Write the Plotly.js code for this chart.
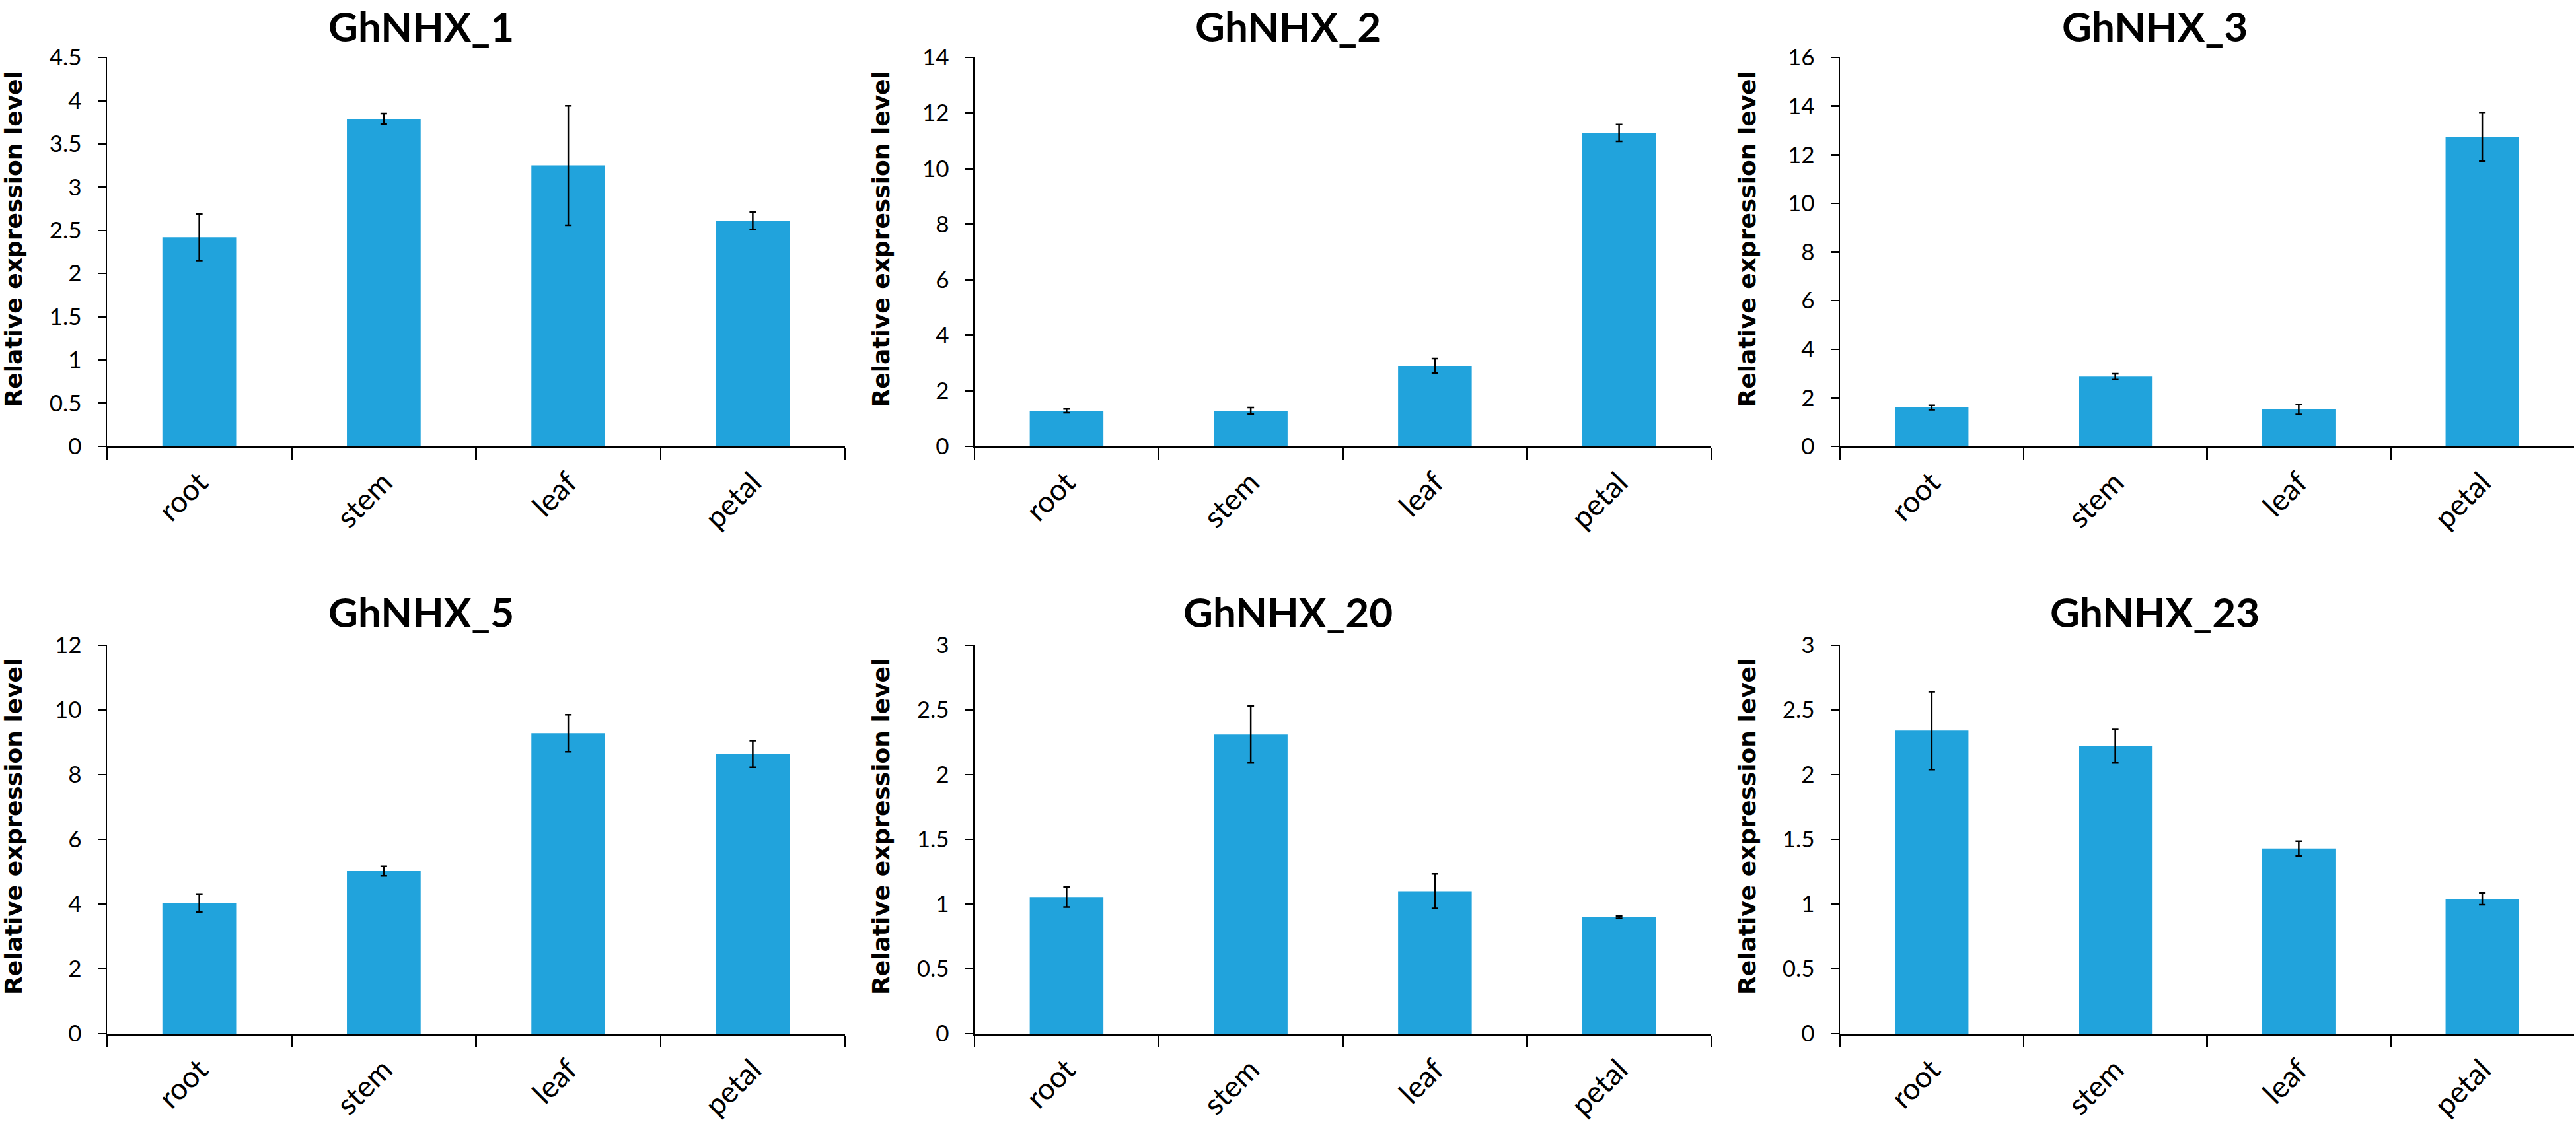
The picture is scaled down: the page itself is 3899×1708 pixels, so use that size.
<!DOCTYPE html>
<html>
<head>
<meta charset="utf-8">
<script src="https://cdn.plot.ly/plotly-3.0.1.min.js"></script>
<style>
  html, body { margin: 0; padding: 0; background: #fff; }
  #chart { width: 3899px; height: 1708px; }
</style>
</head>
<body>
<div id="chart"></div>
<script>
// tissues on the x axis
const tissues = ["root", "stem", "leaf", "petal"];
const genes = ["GhNHX_1", "GhNHX_2", "GhNHX_3", "GhNHX_5", "GhNHX_20", "GhNHX_23"];

// mean relative expression and error per gene
const nhx1Mean = [2.42, 3.79, 3.25, 2.61];
const nhx1Err = [0.27, 0.06, 0.69, 0.10];
const nhx2Mean = [1.28, 1.28, 2.90, 11.28];
const nhx2Err = [0.07, 0.12, 0.26, 0.30];
const nhx3Mean = [1.60, 2.87, 1.52, 12.74];
const nhx3Err = [0.09, 0.12, 0.20, 1.00];
const nhx5Mean = [4.03, 5.02, 9.28, 8.64];
const nhx5Err = [0.28, 0.15, 0.57, 0.41];
const nhx20Mean = [1.055, 2.31, 1.10, 0.90];
const nhx20Err = [0.078, 0.22, 0.133, 0.01];
const nhx23Mean = [2.34, 2.22, 1.43, 1.04];
const nhx23Err = [0.30, 0.13, 0.056, 0.045];

// y axis tops and tick steps
const yMax = [4.5, 14, 16, 12, 3, 3];
const yStep = [0.5, 2, 2, 2, 0.5, 0.5];

const means = [nhx1Mean, nhx2Mean, nhx3Mean, nhx5Mean, nhx20Mean, nhx23Mean];
const errs = [nhx1Err, nhx2Err, nhx3Err, nhx5Err, nhx20Err, nhx23Err];

const W = 3899, H = 1708;
const colX = [[162, 1279], [1475, 2590], [2785, 3896]];
const rowY = [[87, 676], [977, 1565]];
const titleX = [637, 1950, 3261];
const titleY = [39, 926];
const yTitleX = [20, 1333, 2644];

const barColor = "#21A3DC";
const tickFont = { family: "Lato, sans-serif", size: 35, color: "#000" };
const catFont = { family: "Lato, sans-serif", size: 45, color: "#000" };

const traces = [];
const layout = {
  width: W,
  height: H,
  margin: { l: 0, r: 0, t: 0, b: 0 },
  paper_bgcolor: "#fff",
  plot_bgcolor: "#fff",
  showlegend: false,
  bargap: 0.6,
  annotations: [],
};

for (let i = 0; i < 6; i++) {
  const col = i % 3;
  const row = Math.floor(i / 3);
  const n = i === 0 ? "" : String(i + 1);

  traces.push({
    type: "bar",
    x: tissues,
    y: means[i],
    xaxis: "x" + n,
    yaxis: "y" + n,
    marker: { color: barColor },
    error_y: {
      type: "data",
      array: errs[i],
      visible: true,
      color: "#000",
      thickness: 2.5,
      width: 5,
    },
    hoverinfo: "skip",
  });

  layout["xaxis" + n] = {
    domain: [colX[col][0] / W, colX[col][1] / W],
    anchor: "y" + n,
    type: "category",
    range: [-0.5, 3.5],
    tickson: "boundaries",
    ticks: "outside",
    ticklen: 17,
    tickwidth: 2.5,
    tickcolor: "#000",
    showline: true,
    linecolor: "#000",
    linewidth: 2.5,
    showgrid: false,
    zeroline: false,
    tickangle: -45,
    tickfont: catFont,
    ticklabelstandoff: 8,
  };

  layout["yaxis" + n] = {
    domain: [1 - rowY[row][1] / H, 1 - rowY[row][0] / H],
    anchor: "x" + n,
    range: [0, yMax[i]],
    tick0: 0,
    dtick: yStep[i],
    ticks: "outside",
    ticklen: 12,
    tickwidth: 2.5,
    tickcolor: "#000",
    showline: true,
    linecolor: "#000",
    linewidth: 2.5,
    showgrid: false,
    zeroline: false,
    tickfont: tickFont,
    ticklabelstandoff: 17,
  };

  // panel title
  layout.annotations.push({
    text: genes[i],
    xref: "paper",
    yref: "paper",
    x: titleX[col] / W,
    y: 1 - titleY[row] / H,
    xanchor: "center",
    yanchor: "middle",
    showarrow: false,
    font: { family: "Lato, sans-serif", size: 62, weight: "bold", color: "#000" },
  });

  // y axis title
  layout.annotations.push({
    text: "Relative expression level",
    xref: "paper",
    yref: "paper",
    x: yTitleX[col] / W,
    y: 1 - (rowY[row][0] + rowY[row][1] - 38) / 2 / H,
    xanchor: "center",
    yanchor: "middle",
    textangle: -90,
    showarrow: false,
    font: { family: "DejaVu Sans, sans-serif", size: 36, weight: "bold", color: "#000" },
  });
}

Plotly.newPlot("chart", traces, layout, { staticPlot: true, displayModeBar: false });
</script>
</body>
</html>
